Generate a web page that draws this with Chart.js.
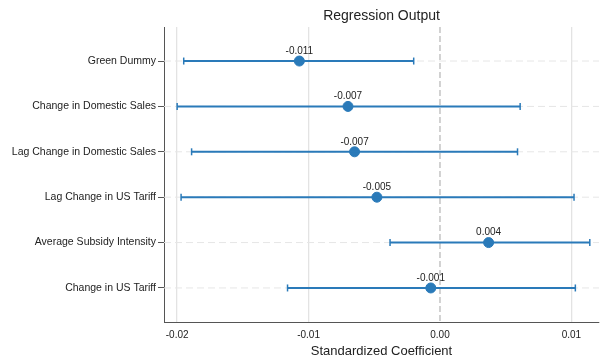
<!DOCTYPE html>
<html>
<head>
<meta charset="utf-8">
<script src="https://cdn.jsdelivr.net/npm/chart.js@4/dist/chart.umd.min.js"></script>
<style>
  html, body { margin: 0; padding: 0; background: #fff; }
  #wrap { width: 605px; height: 359px; }
</style>
</head>
<body>
<div id="wrap"><canvas id="regChart"></canvas></div>
<script>
// values
var categories = ["Green Dummy", "Change in Domestic Sales", "Lag Change in Domestic Sales",
                  "Lag Change in US Tariff", "Average Subsidy Intensity", "Change in US Tariff"];
var coef   = [-0.0107, -0.0070, -0.0065, -0.0048, 0.0037, -0.0007];
var coefLabels = ["-0.011", "-0.007", "-0.007", "-0.005", "0.004", "-0.001"];
var ciLow  = [-0.0195, -0.0200, -0.0189, -0.0197, -0.0038, -0.0116];
var ciHigh = [-0.0020,  0.0061,  0.0059,  0.0102,  0.0114,  0.0103];
var xTicks = [-0.02, -0.01, 0.00, 0.01];

var blue = "#2a7ab9";
var fontFam = "'Liberation Sans', Arial, sans-serif";

var datasets = [];
categories.forEach(function (c, i) {
    datasets.push({
        type: "line",
        data: [{ x: ciLow[i], y: i + 1 }, { x: ciHigh[i], y: i + 1 }],
        borderColor: blue,
        borderWidth: 2,
        pointStyle: "line",
        rotation: 90,
        pointRadius: 3.5,
        pointBorderWidth: 1.5,
        pointBorderColor: blue,
        showLine: true,
        fill: false
    });
});
datasets.push({
    type: "scatter",
    data: coef.map(function (v, i) { return { x: v, y: i + 1 }; }),
    backgroundColor: blue,
    borderColor: blue,
    pointRadius: 5,
    pointHoverRadius: 5
});

var guides = {
    id: "guides",
    beforeDatasetsDraw: function (chart) {
        var ctx = chart.ctx, area = chart.chartArea;
        var xs = chart.scales.x, ys = chart.scales.y;
        ctx.save();
        // dashed row lines
        ctx.strokeStyle = "#e6e6e6";
        ctx.lineWidth = 1;
        ctx.setLineDash([7, 4]);
        categories.forEach(function (c, i) {
            var y = ys.getPixelForValue(i + 1);
            ctx.beginPath();
            ctx.moveTo(area.left, y);
            ctx.lineTo(area.right, y);
            ctx.stroke();
        });
        // zero line
        var x0 = xs.getPixelForValue(0);
        ctx.strokeStyle = "#c4c4c4";
        ctx.lineWidth = 1.5;
        ctx.setLineDash([6, 3]);
        ctx.beginPath();
        ctx.moveTo(x0, area.top);
        ctx.lineTo(x0, area.bottom);
        ctx.stroke();
        ctx.restore();
    },
    afterDatasetsDraw: function (chart) {
        var ctx = chart.ctx, area = chart.chartArea;
        var meta = chart.getDatasetMeta(chart.data.datasets.length - 1);
        ctx.save();
        ctx.fillStyle = "#222";
        ctx.font = "10px " + fontFam;
        ctx.textAlign = "center";
        ctx.textBaseline = "middle";
        meta.data.forEach(function (pt, i) {
            ctx.fillText(coefLabels[i], pt.x, pt.y - 10);
        });
        // title centred over the plot area
        ctx.font = "14px " + fontFam;
        ctx.fillText("Regression Output", (area.left + area.right) / 2, 16);
        ctx.restore();
    }
};

new Chart(document.getElementById("regChart"), {
    data: { datasets: datasets },
    options: {
        responsive: true,
        maintainAspectRatio: false,
        animation: false,
        layout: { padding: { left: 0, right: 5, top: 27, bottom: 0 } },
        plugins: {
            legend: { display: false },
            tooltip: { enabled: false },
            title: { display: false }
        },
        scales: {
            x: {
                type: "linear",
                min: -0.0210,
                max: 0.0121,
                afterBuildTicks: function (axis) {
                    axis.ticks = xTicks.map(function (v) { return { value: v }; });
                },
                afterFit: function (axis) { axis.height = 37; },
                ticks: {
                    color: "#222",
                    font: { family: fontFam, size: 10 },
                    padding: 3,
                    maxRotation: 0,
                    callback: function (v) { return Number(v).toFixed(2); }
                },
                grid: {
                    color: function (c) { return c.tick && c.tick.value === 0 ? "rgba(0,0,0,0)" : "#e3e3e3"; },
                    lineWidth: 1.3,
                    tickLength: 4,
                    tickColor: "rgba(0,0,0,0)"
                },
                border: { color: "#555", width: 1 },
                title: {
                    display: true,
                    text: "Standardized Coefficient",
                    color: "#222",
                    font: { family: fontFam, size: 13 },
                    padding: { top: 0, bottom: 0 }
                }
            },
            y: {
                type: "linear",
                reverse: true,
                min: 0.25,
                max: 6.75,
                afterBuildTicks: function (axis) {
                    axis.ticks = categories.map(function (c, i) { return { value: i + 1 }; });
                },
                afterFit: function (axis) { axis.width = 164; },
                ticks: {
                    color: "#222",
                    font: { family: fontFam, size: 10.5 },
                    padding: 2,
                    callback: function (v) { return categories[v - 1]; }
                },
                grid: {
                    drawOnChartArea: false,
                    tickLength: 6,
                    tickColor: "#555"
                },
                border: { color: "#555", width: 1 }
            }
        }
    },
    plugins: [guides]
});
</script>
</body>
</html>
